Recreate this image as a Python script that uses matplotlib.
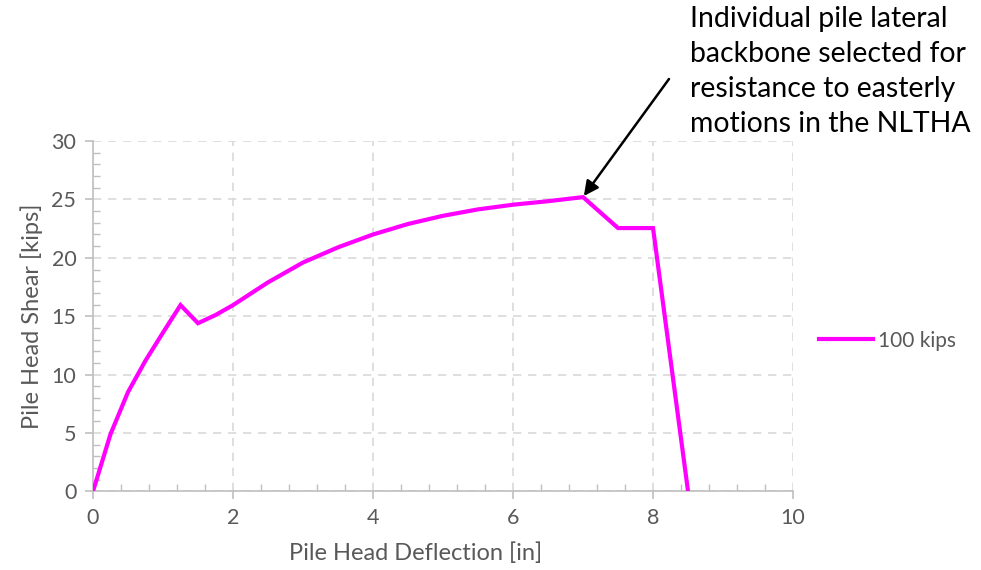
import matplotlib
matplotlib.use("Agg")
import matplotlib.pyplot as plt
from matplotlib.ticker import MultipleLocator

# Lateral backbone curve for a single pile under 100 kips axial load
deflection_in = [0, 0.25, 0.5, 0.75, 1.0, 1.25, 1.5, 1.75, 2.0, 2.5, 3.0, 3.5,
                 4.0, 4.5, 5.0, 5.5, 6.0, 6.5, 7.0, 7.5, 8.0, 8.5]
shear_kips = [0, 4.9, 8.5, 11.2, 13.6, 15.95, 14.4, 15.1, 15.95, 17.9, 19.6, 20.9,
              22.0, 22.9, 23.6, 24.15, 24.55, 24.85, 25.2, 22.55, 22.55, 0]
series_label = "100 kips"
x_ticks = [0, 2, 4, 6, 8, 10]
y_ticks = [0, 5, 10, 15, 20, 25, 30]

plt.rcParams['font.family'] = ['Lato', 'DejaVu Sans']

W, H = 981, 570
fig = plt.figure(figsize=(W / 100, H / 100), dpi=100)
ax = fig.add_axes([0.0948, 0.138, 0.7136, 0.6145])

ax.plot(deflection_in, shear_kips, color="#FF00FF", lw=3.0, label=series_label,
        solid_joinstyle="miter", zorder=3)

ax.set_xlim(0, 10)
ax.set_ylim(0, 30)
ax.set_xticks(x_ticks)
ax.set_yticks(y_ticks)
ax.xaxis.set_minor_locator(MultipleLocator(0.4))
ax.yaxis.set_minor_locator(MultipleLocator(1))

grey_axis = "#BFBFBF"
text_grey = "#595959"
for s in ("top", "right"):
    ax.spines[s].set_visible(False)
for s in ("left", "bottom"):
    ax.spines[s].set_color(grey_axis)
    ax.spines[s].set_linewidth(1.2)

ax.tick_params(which="major", direction="out", length=6, width=1.2,
               color=grey_axis, labelcolor=text_grey, labelsize=15.5, pad=6)
ax.tick_params(which="minor", direction="in", length=5, width=1.0, color=grey_axis)

ax.grid(True, which="major", color="#D9D9D9", linestyle=(0, (5, 4)), lw=1.2, zorder=0)

ax.set_xlabel("Pile Head Deflection [in]", color=text_grey, fontsize=17)
ax.set_ylabel("Pile Head Shear [kips]", color=text_grey, fontsize=17, labelpad=6)
ax.xaxis.set_label_coords(0.461, -0.177)
ax.xaxis.label.set_va("center")

leg = ax.legend(loc="center left", bbox_to_anchor=(1.01, 0.43), frameon=False,
                fontsize=15, handlelength=2.6, handletextpad=0.25)
for t in leg.get_texts():
    t.set_color(text_grey)

# Callout text and arrow pointing at the peak of the backbone
fig.text(690 / W, 1 - 6 / H,
         "Individual pile lateral\nbackbone selected for\nresistance to easterly\nmotions in the NLTHA",
         fontsize=20.4, color="black", ha="left", va="top", linespacing=1.43)
peak_i = shear_kips.index(max(shear_kips))
ax.annotate("", xy=(deflection_in[peak_i], shear_kips[peak_i]), xycoords="data",
            xytext=(669, H - 79), textcoords="figure pixels",
            arrowprops=dict(arrowstyle="-|>", color="black", lw=1.8,
                            mutation_scale=22, shrinkA=0, shrinkB=1),
            annotation_clip=False)

fig.savefig("out.png", dpi=100)
